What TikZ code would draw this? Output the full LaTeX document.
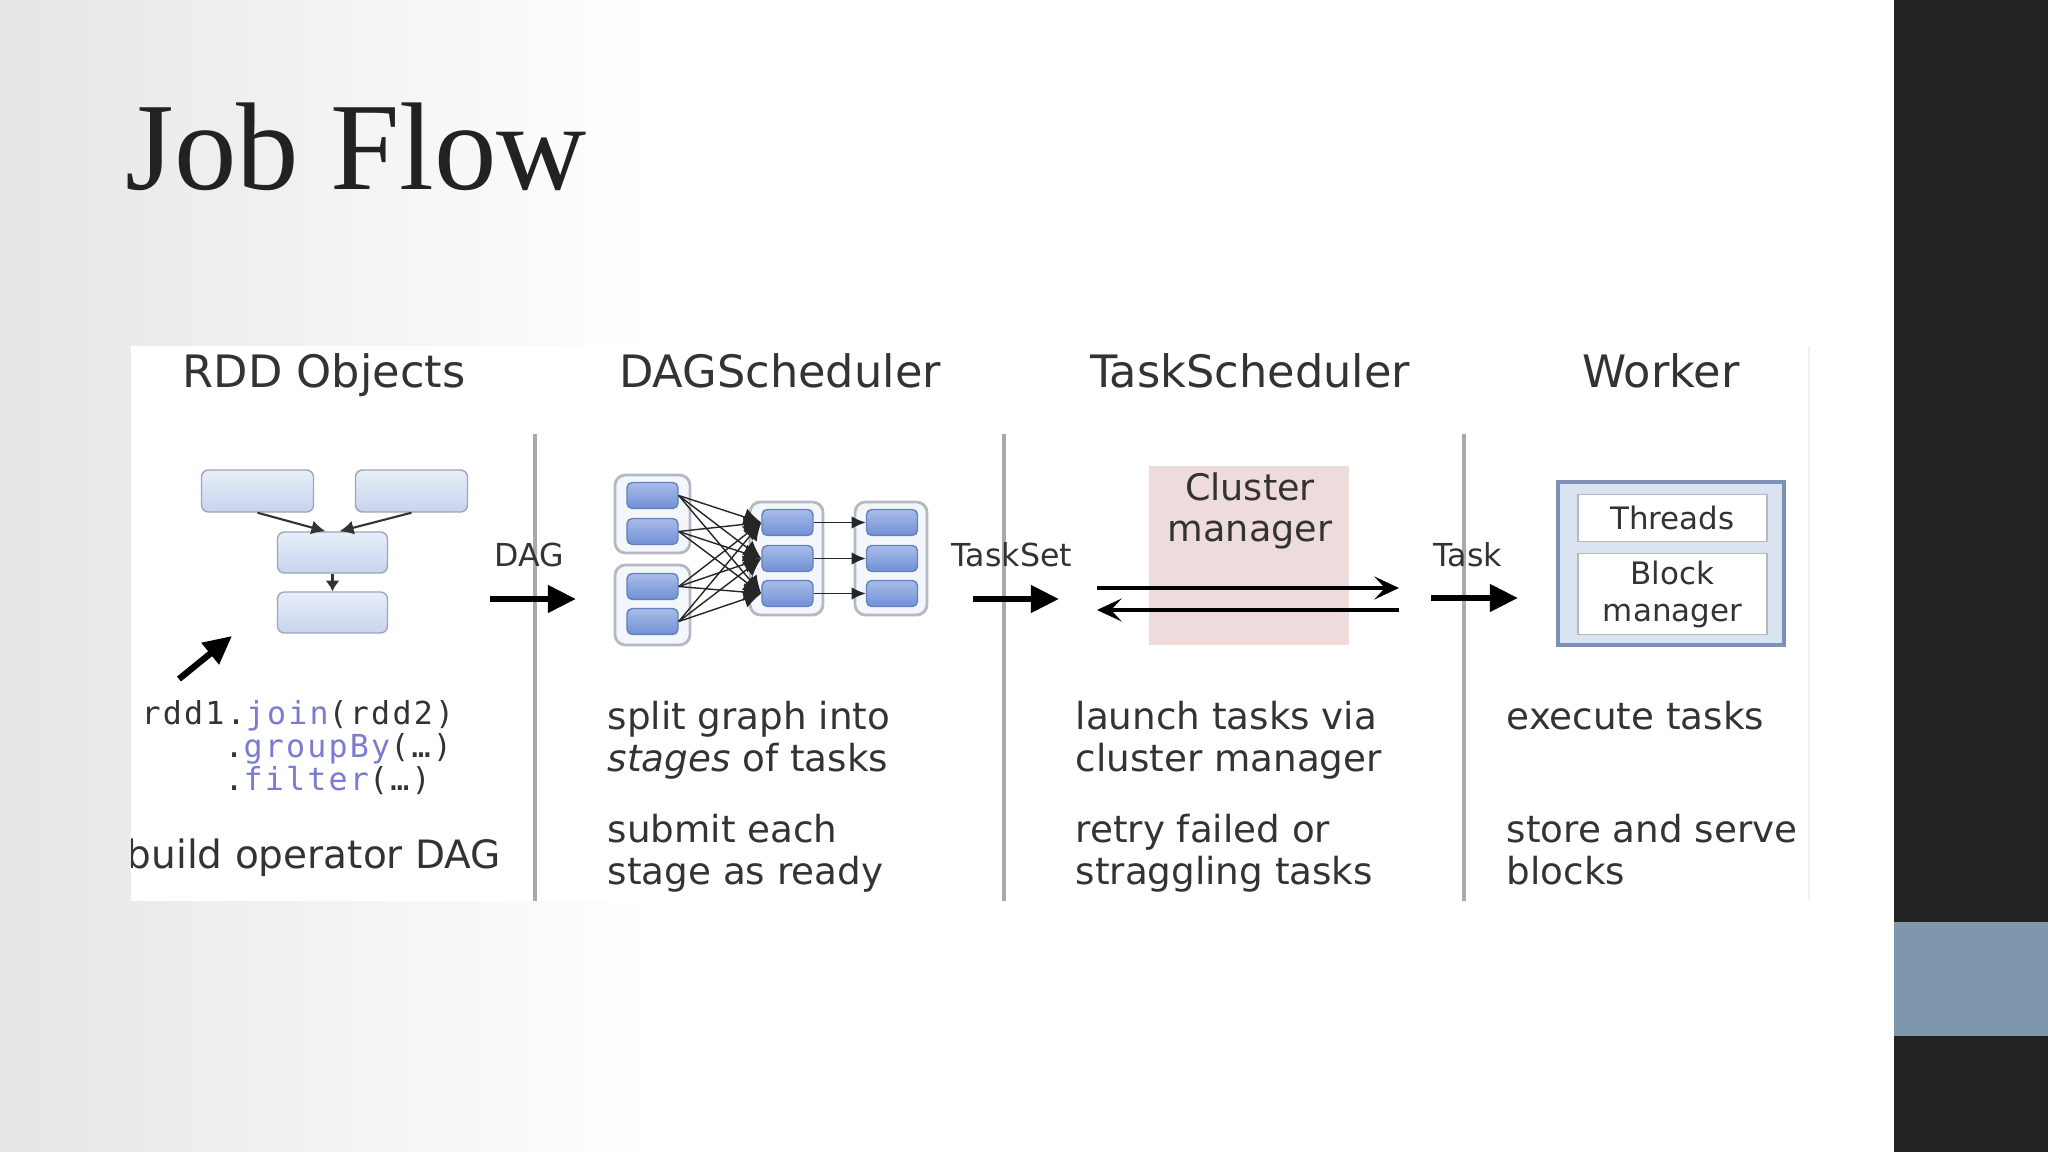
\documentclass[tikz,border=0pt]{standalone}
\usepackage{fontspec}
\setsansfont{DejaVu Sans}
\setmonofont{DejaVu Sans Mono}
\newfontfamily\titlefont{Liberation Serif}
\newfontfamily\codefont[LetterSpace = 7]{DejaVu Sans Mono}
\usetikzlibrary{arrows.meta}

\definecolor{txtgray}{HTML}{333333}
\definecolor{titlegray}{HTML}{222222}
\definecolor{rddtop}{HTML}{E8EEF9}
\definecolor{rddbot}{HTML}{C7D4EE}
\definecolor{rddedge}{HTML}{9EA6B6}
\definecolor{tasktop}{HTML}{A8BDE8}
\definecolor{taskbot}{HTML}{7090D6}
\definecolor{taskedge}{HTML}{6580BE}
\definecolor{stagefill}{HTML}{F3F7FC}
\definecolor{stageedge}{HTML}{B5BAC2}
\definecolor{codeblue}{HTML}{7B7BD3}
\definecolor{clusterpink}{HTML}{EEDCDC}
\definecolor{workfill}{HTML}{D9E3F2}
\definecolor{workedge}{HTML}{7B91B6}
\definecolor{sepgray}{HTML}{A9A9A9}
\definecolor{bggray}{HTML}{E6E6E6}
\definecolor{sidedark}{HTML}{222222}
\definecolor{sideblue}{HTML}{7F96AD}

\begin{document}
\begin{tikzpicture}[x = 0.01cm, y = -0.01cm,
    every node/.style = {inner sep = 0pt, text = txtgray, font = \sffamily},
    rddbox/.style = {draw = rddedge, rounded corners = 2pt, top color = rddtop, bottom color = rddbot,
      minimum width = 1.1cm, minimum height = 0.41cm},
    taskbox/.style = {draw = taskedge, rounded corners = 1.5pt, top color = tasktop, bottom color = taskbot,
      minimum width = 0.51cm, minimum height = 0.26cm},
    stagebox/.style = {draw = stageedge, rounded corners = 3pt, fill = stagefill, line width = 0.8pt},
    heading/.style = {anchor = base, font = \sffamily\fontsize{12.7}{14}\selectfont},
    body/.style = {anchor = north west, align = left, font = \sffamily\fontsize{10.6}{12}\selectfont},
    flowlabel/.style = {anchor = base, font = \sffamily\fontsize{9}{10}\selectfont},
    bigarrow/.style = {-{Triangle[length = 8pt, width = 7.5pt]}, line width = 1.8pt, black},
    cmarrow/.style = {-{Stealth[length = 7pt, width = 6.5pt, inset = 3pt]}, line width = 1pt, black},
    sep/.style = {sepgray, line width = 1.2pt}]
    \useasboundingbox (0,0) rectangle (2048,1152);

    % slide
    \fill [white] (0,0) rectangle (1894,1152);
    \shade [left color = bggray, right color = white] (0,0) rectangle (650,1152);
    \fill [sidedark] (1894,0) rectangle (2048,1152);
    \fill [sideblue] (1894,922) rectangle (2048,1036);
    \node [anchor = base west, font = \titlefont\fontsize{35.5}{40}\selectfont, text = titlegray] (title) at (125, 190) {Job Flow};

    % panel
    \fill [white] (131,346) rectangle (1809,901);
    \draw [gray!10] (1809,346) -- (1809,901);
    \node [heading] (hrdd) at (324, 388) {RDD Objects};
    \node [heading] (hdag) at (780, 388) {DAGScheduler};
    \node [heading] (htask) at (1250, 388) {TaskScheduler};
    \node [heading] (hwork) at (1661, 388) {Worker};
    \foreach \sx in {535, 1004, 1464}
      \draw [sep] (\sx, 434) -- (\sx, 901);

    % RDD objects
    \node [rddbox, minimum width = 1.12cm, minimum height = 0.42cm] (rddA) at (257.5, 491) {};
    \node [rddbox, minimum width = 1.12cm, minimum height = 0.42cm] (rddB) at (411.5, 491) {};
    \node [rddbox] (rddC) at (332.5, 552.5) {};
    \node [rddbox] (rddD) at (332.5, 612.5) {};
    \draw [-{Latex[length = 4pt, width = 4pt]}, semithick, black!80] (rddA.south) -- ([xshift = -2pt]rddC.north);
    \draw [-{Latex[length = 4pt, width = 4pt]}, semithick, black!80] (rddB.south) -- ([xshift = 2pt]rddC.north);
    \draw [-{Latex[length = 3pt, width = 4pt]}, semithick, black!80] (rddC.south) -- (rddD.north);
    \coordinate (codeS) at (179, 679);
    \coordinate (codeE) at (232, 636);
    \draw [bigarrow] (codeS) -- (codeE);
    \node [anchor = north west, align = left, font = {\codefont\fontsize{9}{9.3}\selectfont\lineskiplimit=-10pt\relax}] (code) at (141, 700)
      {rdd1.\textcolor{codeblue}{join}(rdd2)\\\phantom{rdd1}.\textcolor{codeblue}{groupBy}(…)\\\phantom{rdd1}.\textcolor{codeblue}{filter}(…)};
    \begin{scope}
      \clip (131,346) rectangle (535,901);
      \node [anchor = north west, font = \sffamily\fontsize{11.1}{12}\selectfont] (build) at (126, 838) {build operator DAG};
    \end{scope}

    % DAGScheduler
    \coordinate (dagS) at (490, 599);
    \coordinate (dagE) at (576, 599);
    \draw [bigarrow] (dagS) -- (dagE);
    \node [flowlabel] (dagL) at (529, 567) {DAG};
    \node [stagebox, minimum width = 0.75cm, minimum height = 0.78cm] (stA) at (652.5, 514) {};
    \node [stagebox, minimum width = 0.75cm, minimum height = 0.80cm] (stB) at (652.5, 605) {};
    \node [stagebox, minimum width = 0.73cm, minimum height = 1.13cm] (stC) at (786.5, 558.5) {};
    \node [stagebox, minimum width = 0.72cm, minimum height = 1.13cm] (stD) at (891, 558.5) {};
    \foreach \n/\ty in {1/495.5, 2/531.5, 3/586.5, 4/621.5}
      \node [taskbox] (in\n) at (652.5, \ty) {};
    \foreach \n/\ty in {1/522.5, 2/558.5, 3/593.5} {
      \node [taskbox] (mid\n) at (787.5, \ty) {};
      \node [taskbox] (out\n) at (892, \ty) {};
    }
    \foreach \i in {1,...,4}
      \foreach \j in {1,2,3}
        \draw [-{Latex[length = 5pt, width = 5pt]}, thin, black!85] (in\i.east) -- (mid\j.west);
    \foreach \j in {1,2,3}
      \draw [-{Latex[length = 4pt, width = 3.5pt]}, thin, black!85] (mid\j.east) -- (out\j.west);
    \node [body] (dagA) at (607, 700) {split graph into\\\textit{stages} of tasks};
    \node [body] (dagB) at (607, 813) {submit each\\stage as ready};

    % TaskScheduler
    \coordinate (tsS) at (973, 599);
    \coordinate (tsE) at (1059, 599);
    \draw [bigarrow] (tsS) -- (tsE);
    \node [flowlabel] (tsL) at (1012, 567) {TaskSet};
    \node [fill = clusterpink, minimum width = 2cm, minimum height = 1.79cm] (cluster) at (1249, 555.5) {};
    \node [anchor = north, align = center, font = \sffamily\fontsize{10.4}{11.6}\selectfont] (clusterL) at (1250, 472) {Cluster\\manager};
    \coordinate (cmW1) at (1097, 588);
    \coordinate (cmE1) at (1399, 588);
    \coordinate (cmW2) at (1097, 610);
    \coordinate (cmE2) at (1399, 610);
    \draw [cmarrow] (cmW1) -- (cmE1);
    \draw [cmarrow] (cmE2) -- (cmW2);
    \node [body] (tskA) at (1075, 700) {launch tasks via\\cluster manager};
    \node [body] (tskB) at (1075, 813) {retry failed or\\straggling tasks};

    % Worker
    \coordinate (tkS) at (1431, 598);
    \coordinate (tkE) at (1518, 598);
    \draw [bigarrow] (tkS) -- (tkE);
    \node [flowlabel] (tkL) at (1468, 567) {Task};
    \node [draw = workedge, fill = workfill, line width = 1.2pt, minimum width = 2.26cm, minimum height = 1.63cm] (worker) at (1671, 563.5) {};
    \node [draw = gray!55, fill = white, minimum width = 1.89cm, minimum height = 0.47cm,
      font = \sffamily\fontsize{8.8}{10.5}\selectfont] (threads) at (1672.5, 518) {Threads};
    \node [draw = gray!55, fill = white, minimum width = 1.89cm, minimum height = 0.81cm, align = center,
      font = \sffamily\fontsize{8.8}{10.5}\selectfont] (blockmgr) at (1672.5, 594) {Block\\manager};
    \node [body] (wrkA) at (1506, 700) {execute tasks};
    \node [body] (wrkB) at (1506, 813) {store and serve\\blocks};
\end{tikzpicture}
\end{document}
